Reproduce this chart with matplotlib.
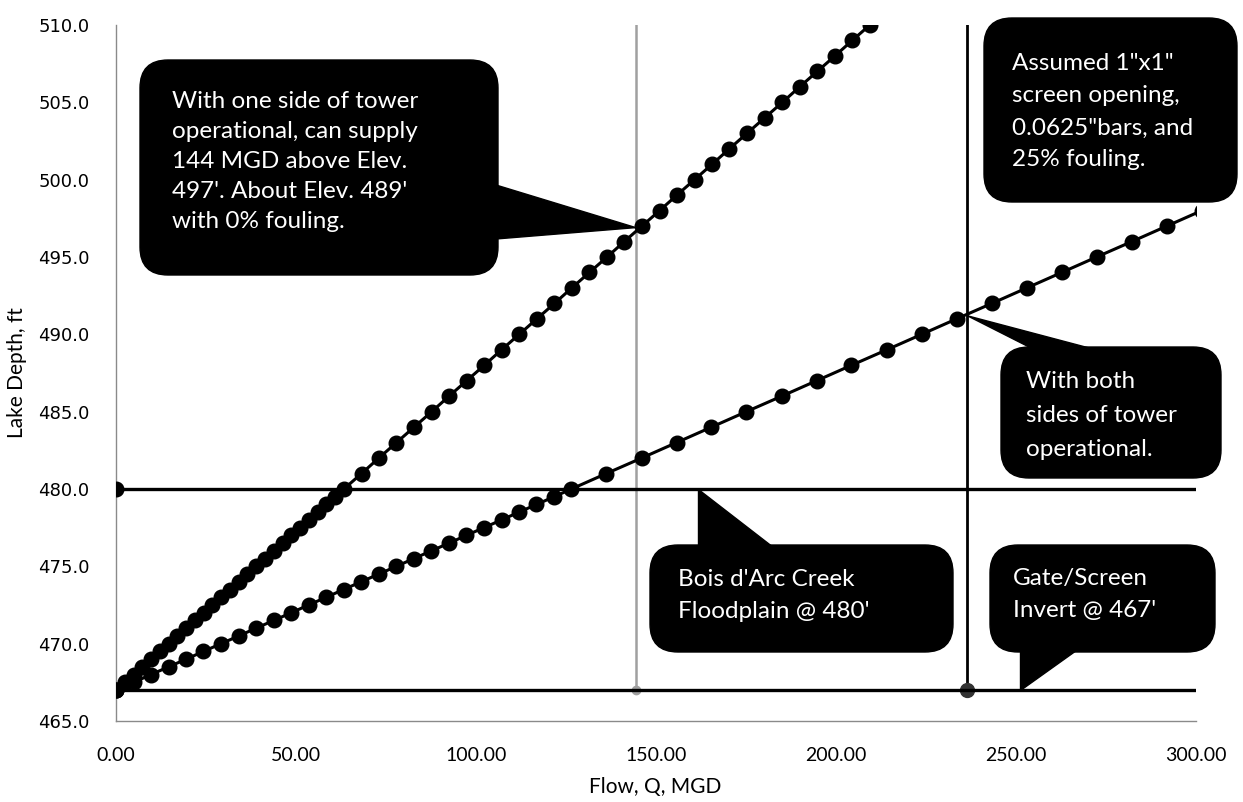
import matplotlib
matplotlib.use("Agg")
import matplotlib.pyplot as plt
from matplotlib.patches import FancyBboxPatch, Polygon
from matplotlib.transforms import Affine2D
from matplotlib.ticker import FormatStrFormatter, MultipleLocator

# ---------------- data ----------------
# Lake elevation (ft) and flow (MGD)
elev_one_side = [467.0, 467.5, 468.0, 468.5, 469.0, 469.5, 470.0, 470.5, 471.0, 471.5,
                 472.0, 472.5, 473.0, 473.5, 474.0, 474.5, 475.0, 475.5, 476.0, 476.5,
                 477.0, 477.5, 478.0, 478.5, 479.0, 479.5, 480.0,
                 481, 482, 483, 484, 485, 486, 487, 488, 489, 490, 491, 492, 493, 494,
                 495, 496, 497, 498, 499, 500, 501, 502, 503, 504, 505, 506, 507, 508,
                 509, 510]
flow_one_side = [0.0, 2.4, 4.9, 7.3, 9.7, 12.2, 14.6, 17.0, 19.5, 21.9,
                 24.4, 26.8, 29.2, 31.7, 34.1, 36.5, 39.0, 41.4, 43.8, 46.3,
                 48.7, 51.1, 53.6, 56.0, 58.4, 60.9, 63.3,
                 68.2, 73.0, 77.9, 82.8, 87.7, 92.5, 97.4, 102.3, 107.1, 112.0, 116.9,
                 121.8, 126.6, 131.5, 136.4, 141.2, 146.1, 151.0, 155.8, 160.7, 165.6,
                 170.4, 175.3, 180.2, 185.1, 189.9, 194.8, 199.7, 204.5, 209.4]

elev_both_sides = [467.0, 467.5, 468.0, 468.5, 469.0, 469.5, 470.0, 470.5, 471.0, 471.5,
                   472.0, 472.5, 473.0, 473.5, 474.0, 474.5, 475.0, 475.5, 476.0, 476.5,
                   477.0, 477.5, 478.0, 478.5, 479.0, 479.5, 480.0,
                   481, 482, 483, 484, 485, 486, 487, 488, 489, 490, 491, 492, 493, 494,
                   495, 496, 497, 498]
flow_both_sides = [0.0, 4.9, 9.7, 14.6, 19.5, 24.3, 29.2, 34.1, 38.9, 43.8,
                   48.7, 53.5, 58.4, 63.2, 68.1, 73.0, 77.9, 82.7, 87.6, 92.5,
                   97.3, 102.2, 107.1, 111.9, 116.8, 121.7, 126.5,
                   136.2, 146.0, 155.7, 165.4, 175.1, 184.9, 194.6, 204.3, 214.1, 223.8,
                   233.5, 243.3, 253.0, 262.7, 272.4, 282.2, 291.9, 301.6]

floodplain_x = [0, 300]
floodplain_y = [480, 480]
invert_x = [0, 300]
invert_y = [467, 467]
one_side_q_x = [144.4, 144.4]
one_side_q_y = [467, 510]
both_side_q_x = [236.5, 236.5]
both_side_q_y = [467, 510]

x_ticks = [0, 50, 100, 150, 200, 250, 300]
y_ticks = [465, 470, 475, 480, 485, 490, 495, 500, 505, 510]

# ---------------- figure ----------------
W, H = 1243, 802
fig = plt.figure(figsize=(W / 100, H / 100), dpi=100)
fig.patch.set_facecolor("white")
L, R, T, B = 116, 1196, 25, 721
ax = fig.add_axes([L / W, (H - B) / H, (R - L) / W, (B - T) / H])
ax.set_xlim(0, 300)
ax.set_ylim(465, 510)

ax.plot(one_side_q_x, one_side_q_y, color="#a0a0a0", lw=1.8, zorder=2,
        marker="o", markevery=[0], ms=6, mfc="#a0a0a0", mec="#a0a0a0")
ax.plot(both_side_q_x, both_side_q_y, color="black", lw=2.0, zorder=2,
        marker="o", markevery=[0], ms=10, mfc="#333333", mec="#333333")
ax.plot(floodplain_x, floodplain_y, color="black", lw=2.4, zorder=3,
        marker="o", markevery=[0], ms=10.5, mfc="black", mec="black")
ax.plot(invert_x, invert_y, color="black", lw=2.4, zorder=3,
        marker="o", markevery=[0], ms=10.5, mfc="black", mec="black")
ax.plot(flow_one_side, elev_one_side, color="black", lw=2.2, zorder=4,
        marker="o", ms=10.5, mfc="black", mec="black")
ax.plot(flow_both_sides, elev_both_sides, color="black", lw=2.2, zorder=4,
        marker="o", ms=10.5, mfc="black", mec="black")

ax.xaxis.set_major_locator(MultipleLocator(50))
ax.yaxis.set_major_locator(MultipleLocator(5))
ax.xaxis.set_major_formatter(FormatStrFormatter("%.2f"))
ax.yaxis.set_major_formatter(FormatStrFormatter("%.1f"))
ax.set_xticks(x_ticks)
ax.set_yticks(y_ticks)
ax.tick_params(length=0)
ax.tick_params(axis="x", pad=19)
ax.tick_params(axis="y", pad=19)
for lab in ax.get_xticklabels():
    lab.set_fontfamily(["Lato", "DejaVu Sans"])
    lab.set_fontsize(14)
for lab in ax.get_yticklabels():
    lab.set_fontfamily(["DejaVu Sans"])
    lab.set_fontsize(13)

for s in ["top", "right"]:
    ax.spines[s].set_visible(False)
for s in ["left", "bottom"]:
    ax.spines[s].set_color("#8a8a8a")
    ax.spines[s].set_linewidth(1.0)
    ax.spines[s].set_linestyle((0, (2, 1)))

ax.set_xlabel("Flow, Q, MGD", fontsize=15, family=["Lato", "DejaVu Sans"])
ax.set_ylabel("Lake Depth, ft", fontsize=15, family=["Lato", "DejaVu Sans"])
ax.xaxis.set_label_coords(0.499, -0.080)
ax.yaxis.set_label_coords(-0.082, 0.50)

# ---------------- callouts (pixel coordinates, origin at top-left) ----------------
fig.canvas.draw()
PT = Affine2D().scale(1, -1).translate(0, H)   # top-left pixel coords -> display


def data_px(x, y):
    dx, dy = ax.transData.transform((x, y))
    return dx, H - dy


def callout(x0, y0, x1, y1, lines, line_y, text_x, pointer=None, fs=17.5):
    box = FancyBboxPatch((x0, y0), x1 - x0, y1 - y0,
                         boxstyle="round,pad=0,rounding_size=28",
                         transform=PT, facecolor="black", edgecolor="black",
                         zorder=10, clip_on=False)
    fig.add_artist(box)
    if pointer is not None:
        poly = Polygon(pointer, closed=True, transform=PT, facecolor="black",
                       edgecolor="black", zorder=10, clip_on=False)
        fig.add_artist(poly)
    for txt, yy in zip(lines, line_y):
        fig.text(text_x, yy, txt, transform=PT, color="white", fontsize=fs,
                 family=["Lato", "DejaVu Sans"], ha="left", va="center", zorder=11)


tip1 = data_px(144.4, 496.9)
callout(140, 60, 498, 275,
        ["With one side of tower", "operational, can supply", "144 MGD above Elev.",
         "497'. About Elev. 489'", "with 0% fouling."],
        [102, 132, 162, 191, 221], 172,
        pointer=[(496, 185), tip1, (496, 239)])

callout(984, 18, 1237, 202,
        ['Assumed 1"x1"', "screen opening,", '0.0625"bars, and', "25% fouling."],
        [64, 96, 128, 160], 1012)

tip3 = data_px(236.5, 491.2)
callout(1001, 347, 1221, 478,
        ["With both", "sides of tower", "operational."],
        [382, 415, 449], 1026,
        pointer=[tip3, (1033, 349), (1093, 349)])

tip4 = data_px(161.7, 480)
callout(650, 545, 953, 652,
        ["Bois d'Arc Creek", "Floodplain @ 480'"],
        [580, 612], 678,
        pointer=[tip4, (tip4[0], 547), (tip4[0] + 75, 547)])

tip5 = data_px(251.0, 467)
callout(990, 545, 1215, 652,
        ["Gate/Screen", "Invert @ 467'"],
        [579, 611], 1013,
        pointer=[tip5, (tip5[0], 650), (tip5[0] + 56, 650)])

fig.savefig("out.png", dpi=100, facecolor="white")
